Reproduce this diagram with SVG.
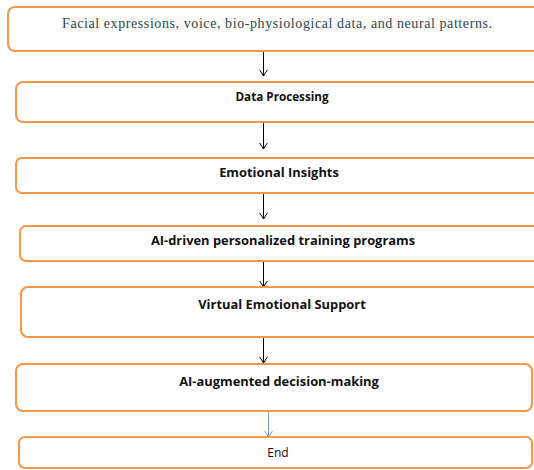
<svg xmlns="http://www.w3.org/2000/svg" width="534" height="470" viewBox="0 0 534 470">
  <style>
    .box { fill: #ffffff; stroke: #f79646; stroke-width: 2; }
    .lbl { font-family: "Open Sans", "Liberation Sans", sans-serif; font-weight: bold; fill: #111111; text-anchor: middle; }
    .conn { stroke: #000000; stroke-width: 1; fill: none; }
    .conn-blue { stroke: #6f9bd1; stroke-width: 1; fill: none; }
  </style>
  <defs>
    <!-- open V arrowhead, drawn pointing along +x so orient="auto" turns it with the line -->
    <marker id="vhead" markerWidth="10" markerHeight="10" refX="8" refY="5" orient="auto" markerUnits="userSpaceOnUse">
      <path d="M2,1.2 L8,5 L2,8.8" fill="none" stroke="#000000" stroke-width="1"/>
    </marker>
    <marker id="vhead-blue" markerWidth="10" markerHeight="10" refX="8" refY="5" orient="auto" markerUnits="userSpaceOnUse">
      <path d="M2,1.2 L8,5 L2,8.8" fill="none" stroke="#6f9bd1" stroke-width="1"/>
    </marker>
  </defs>
  <rect width="534" height="470" fill="#ffffff"/>

  <g id="connectors">
    <line class="conn" x1="263.5" y1="51" x2="263.5" y2="76" marker-end="url(#vhead)"/>
    <line class="conn" x1="263.5" y1="122" x2="263.5" y2="149" marker-end="url(#vhead)"/>
    <line class="conn" x1="263.5" y1="193" x2="263.5" y2="219" marker-end="url(#vhead)"/>
    <line class="conn" x1="263.5" y1="261" x2="263.5" y2="287" marker-end="url(#vhead)"/>
    <line class="conn" x1="263.5" y1="337" x2="263.5" y2="363" marker-end="url(#vhead)"/>
    <line class="conn-blue" x1="268.5" y1="411" x2="268.5" y2="437" marker-end="url(#vhead-blue)"/>
  </g>

  <g id="node-inputs">
    <rect class="box" x="8" y="7" width="540" height="44" rx="7"/>
    <rect x="61" y="16" width="433" height="16" fill="#f9faf6"/>
    <text x="277" y="28" font-family="Liberation Serif, serif" font-size="14" fill="#2f4a4f" text-anchor="middle" textLength="430" lengthAdjust="spacing">Facial expressions, voice, bio-physiological data, and neural patterns.</text>
  </g>

  <g id="node-processing">
    <rect class="box" x="16" y="82" width="530" height="40" rx="7"/>
    <text class="lbl" x="282" y="101" font-size="11.7">Data Processing</text>
  </g>

  <g id="node-insights">
    <rect class="box" x="16" y="158" width="530" height="35" rx="6"/>
    <text class="lbl" x="279" y="177" font-size="12.9">Emotional Insights</text>
  </g>

  <g id="node-training">
    <rect class="box" x="20" y="226" width="530" height="35" rx="6"/>
    <text class="lbl" x="283" y="245" font-size="12.9">AI-driven personalized training programs</text>
  </g>

  <g id="node-support">
    <rect class="box" x="21" y="287" width="530" height="50" rx="7"/>
    <text class="lbl" x="282" y="309" font-size="12.9">Virtual Emotional Support</text>
  </g>

  <g id="node-decision">
    <rect class="box" x="16" y="364" width="516" height="47" rx="7"/>
    <text class="lbl" x="279" y="386" font-size="12.9">AI-augmented decision-making</text>
  </g>

  <g id="node-end">
    <rect class="box" x="19" y="437" width="513" height="31" rx="6"/>
    <text x="278" y="457" font-family="Open Sans, Liberation Sans, sans-serif" font-size="12" fill="#111111" text-anchor="middle">End</text>
  </g>
</svg>
